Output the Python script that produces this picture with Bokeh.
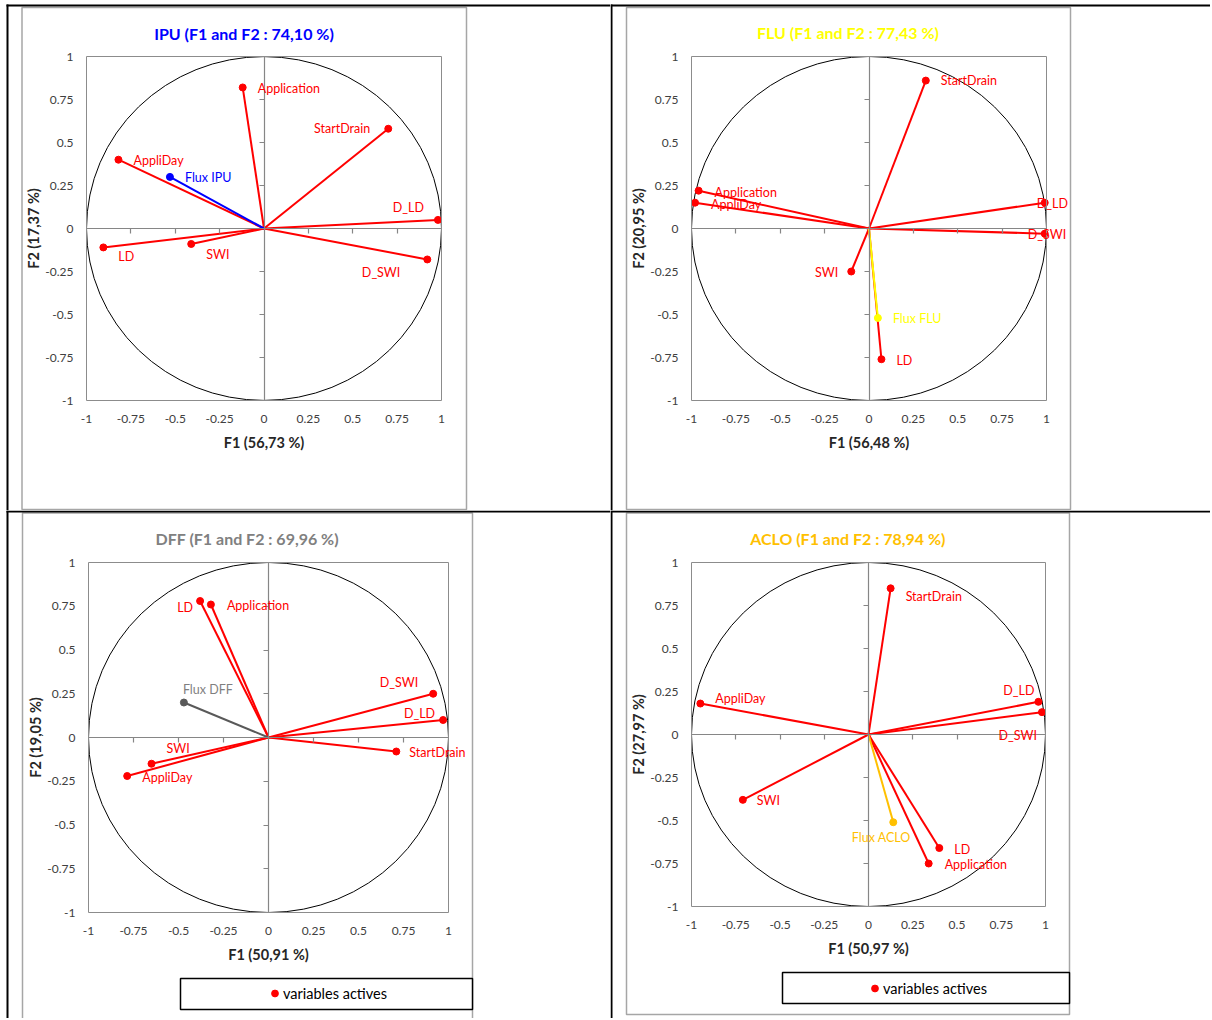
from bokeh.plotting import figure
from bokeh.models import (Range1d, FixedTicker, LinearAxis, Label, BoxAnnotation,
                          Legend, LegendItem)
from bokeh.layouts import gridplot
from bokeh.embed import file_html
from bokeh.resources import INLINE

# ---------------- data ----------------
VARIABLES = ["StartDrain", "Application", "AppliDay", "D_LD", "D_SWI", "LD", "SWI"]
TICKS = [-1, -0.75, -0.5, -0.25, 0, 0.25, 0.5, 0.75, 1]
TICK_LABELS = ["-1", "-0.75", "-0.5", "-0.25", "0", "0.25", "0.5", "0.75", "1"]

IPU_F1 = [0.70, -0.12, -0.82, 0.98, 0.92, -0.905, -0.41]
IPU_F2 = [0.58, 0.82, 0.40, 0.05, -0.18, -0.11, -0.09]
IPU_FLUX = [-0.53, 0.30]

FLU_F1 = [0.32, -0.96, -0.98, 0.99, 0.99, 0.07, -0.10]
FLU_F2 = [0.86, 0.22, 0.15, 0.15, -0.03, -0.76, -0.25]
FLU_FLUX = [0.05, -0.52]

DFF_F1 = [0.71, -0.32, -0.785, 0.97, 0.915, -0.38, -0.65]
DFF_F2 = [-0.08, 0.76, -0.22, 0.10, 0.25, 0.78, -0.15]
DFF_FLUX = [-0.47, 0.20]

ACLO_F1 = [0.125, 0.34, -0.95, 0.96, 0.98, 0.40, -0.71]
ACLO_F2 = [0.85, -0.75, 0.18, 0.19, 0.13, -0.66, -0.38]
ACLO_FLUX = [0.14, -0.51]

TITLES = ["IPU (F1 and F2 : 74,10 %)", "FLU (F1 and F2 : 77,43 %)",
          "DFF (F1 and F2 : 69,96 %)", "ACLO (F1 and F2 : 78,94 %)"]
X_LABELS = ["F1 (56,73 %)", "F1 (56,48 %)", "F1 (50,91 %)", "F1 (50,97 %)"]
Y_LABELS = ["F2 (17,37 %)", "F2 (20,95 %)", "F2 (19,05 %)", "F2 (27,97 %)"]
FLUX_NAMES = ["Flux IPU", "Flux FLU", "Flux DFF", "Flux ACLO"]
LEGEND_LABEL = "variables actives"

# ---------------- styles / positions ----------------
FONT = "Lato"
RED = "#FF0000"
AXGRAY = "#868686"
FRAMEGRAY = "#8c8c8c"
CHARTGRAY = "#a6a6a6"

# label placement: dx, dy (screen px, dy down), align
POS = [
    {"StartDrain": (-18, 0, "right"), "Application": (15, 1, "left"),
     "AppliDay": (15, 1, "left"), "D_LD": (-14, -12, "right"),
     "D_SWI": (-27, 13, "right"), "LD": (15, 9, "left"), "SWI": (15, 11, "left"),
     "flux": (15, 1, "left")},
    {"StartDrain": (15, 0, "left"), "Application": (16, 2, "left"),
     "AppliDay": (16, 2, "left"), "D_LD": (-8, 1, "left"),
     "D_SWI": (-17, 1, "left"), "LD": (15, 1, "left"), "SWI": (-13, 1, "right"),
     "flux": (15, 1, "left")},
    {"StartDrain": (13, 1, "left"), "Application": (16, 1, "left"),
     "AppliDay": (15, 1, "left"), "D_LD": (-8, -7, "right"),
     "D_SWI": (-15, -11, "right"), "LD": (-7, 6, "right"), "SWI": (15, -15, "left"),
     "flux": (-1, -13, "left")},
    {"StartDrain": (15, 8, "left"), "Application": (16, 1, "left"),
     "AppliDay": (15, -5, "left"), "D_LD": (-4, -11, "right"),
     "D_SWI": (-5, 23, "right"), "LD": (15, 1, "left"), "SWI": (14, 1, "left"),
     "flux": (-12, 15, "center")},
]

# canvas-pixel geometry of each cell (origin = top-left of the cell)
GEO = [
    dict(W=610, H=510, area=(86, 56, 441, 400), title=(243.5, 32.7),
         chart=(21.5, 7, 466, 509), lines=[(6, 4, 610, 6), (6, 4, 8, 510)], legend=None),
    dict(W=600, H=510, area=(81, 56, 436, 400), title=(237.5, 32.3),
         chart=(16, 7, 460, 509), lines=[(0, 4, 600, 6), (0, 4, 2, 510)], legend=None),
    dict(W=610, H=508, area=(88, 52, 448, 402), title=(246.8, 28.3),
         chart=(22, 2.5, 472, 520), lines=[(6, 0, 610, 2), (6, 0, 8, 508)],
         legend=dict(box=(180, 468, 472, 499), loc=(266, 16))),
    dict(W=600, H=508, area=(81, 52, 435, 396), title=(237.3, 28.3),
         chart=(16, 2.5, 459, 504), lines=[(0, 0, 600, 2), (0, 0, 2, 508)],
         legend=dict(box=(172, 462, 459, 493), loc=(256, 21))),
]

TITLE_COLORS = ["#0000FF", "#FFFF00", "#808080", "#FFC000"]
FLUX_LINE = ["#0000FF", "#FFFF00", "#595959", "#FFC000"]
FLUX_TEXT = ["#0000FF", "#FFFF00", "#7F7F7F", "#FFC000"]


def make_panel(i, f1, f2, flux):
    g = GEO[i]
    W, H = g["W"], g["H"]
    L, T, R, B = g["area"]
    sx = (R - L) / 2.0
    sy = (B - T) / 2.0
    xr = Range1d(-1 - L / sx, 1 + (W - R) / sx)
    yr = Range1d(-1 - (H - B) / sy, 1 + T / sy)

    def X(c):
        return -1 + (c - L) / sx

    def Y(c):
        return 1 - (c - T) / sy

    p = figure(x_range=xr, y_range=yr, frame_width=W, frame_height=H,
               min_border=0, x_axis_location=None, y_axis_location=None,
               toolbar_location=None, tools="", output_backend="svg")
    p.grid.visible = False
    p.outline_line_color = None
    p.border_fill_color = "white"
    p.background_fill_color = "white"

    def box(l, t, r, b, **kw):
        return BoxAnnotation(left=X(l), right=X(r), top=Y(t), bottom=Y(b), **kw)

    # chart area border and table lines
    cl, ct, cr, cb = g["chart"]
    p.add_layout(box(cl, ct, cr, cb, fill_alpha=0, line_color=CHARTGRAY,
                     line_alpha=1, line_width=1.5))
    for (l, t, r, b) in g["lines"]:
        p.add_layout(box(l, t, r, b, fill_color="black", fill_alpha=1, line_alpha=0))

    # plot-area border
    p.add_layout(BoxAnnotation(left=-1, right=1, bottom=-1, top=1, fill_alpha=0,
                               line_color=FRAMEGRAY, line_alpha=1, line_width=1))

    overrides = {float(t): s for t, s in zip(TICKS, TICK_LABELS)}
    xa = LinearAxis(fixed_location=-1, bounds=(-1, 1), ticker=FixedTicker(ticks=TICKS),
                    major_label_overrides=overrides, axis_label=X_LABELS[i],
                    major_label_standoff=14, axis_label_standoff=8)
    ya = LinearAxis(fixed_location=-1, bounds=(-1, 1), ticker=FixedTicker(ticks=TICKS),
                    major_label_overrides=overrides, axis_label=Y_LABELS[i],
                    major_label_standoff=13, axis_label_standoff=0)
    for ax in (xa, ya):
        ax.axis_line_color = None
        ax.major_tick_out = 0
        ax.major_tick_in = 0
        ax.minor_tick_out = 0
        ax.minor_tick_in = 0
        ax.major_label_text_font = FONT
        ax.major_label_text_font_size = "12px"
        ax.major_label_text_color = "#404040"
        ax.axis_label_text_font = FONT
        ax.axis_label_text_font_style = "bold"
        ax.axis_label_text_font_size = "14.5px"
        ax.axis_label_text_color = "#262626"
    p.add_layout(xa, "below")
    p.add_layout(ya, "left")

    cross_ticks = [t for t in TICKS if abs(t) not in (0, 1)]
    empty = {float(t): "" for t in cross_ticks}
    for side in ("below", "left"):
        ca = LinearAxis(fixed_location=0, bounds=(-1, 1),
                        ticker=FixedTicker(ticks=cross_ticks),
                        major_label_overrides=empty,
                        axis_line_color=AXGRAY, axis_line_width=1.2,
                        major_tick_line_color=AXGRAY, major_tick_line_width=1.2,
                        major_tick_out=5, major_tick_in=0,
                        minor_tick_out=0, minor_tick_in=0)
        p.add_layout(ca, side)

    # unit circle
    p.ellipse(x=0, y=0, width=2, height=2, fill_color=None,
              line_color="black", line_width=1)

    n = len(f1)
    p.segment(x0=[0] * n, y0=[0] * n, x1=f1, y1=f2, line_color=RED, line_width=2)
    pts = p.scatter(f1, f2, size=7, fill_color=RED, line_color=RED)

    p.segment(x0=[0], y0=[0], x1=[flux[0]], y1=[flux[1]],
              line_color=FLUX_LINE[i], line_width=2)
    p.scatter([flux[0]], [flux[1]], size=7, fill_color=FLUX_LINE[i],
              line_color=FLUX_LINE[i])

    pos = POS[i]
    for name, x, y in zip(VARIABLES, f1, f2):
        dx, dy, al = pos[name]
        p.add_layout(Label(x=x, y=y, x_offset=dx, y_offset=-dy, text=name,
                           text_align=al, text_baseline="middle",
                           text_font=FONT, text_font_size="12.5px", text_color=RED))
    dx, dy, al = pos["flux"]
    p.add_layout(Label(x=flux[0], y=flux[1], x_offset=dx, y_offset=-dy,
                       text=FLUX_NAMES[i], text_align=al, text_baseline="middle",
                       text_font=FONT, text_font_size="12.5px",
                       text_color=FLUX_TEXT[i]))

    # title
    tx, ty = g["title"]
    p.add_layout(Label(x=X(tx), y=Y(ty), text=TITLES[i], text_align="center",
                       text_baseline="middle", text_font=FONT,
                       text_font_style="bold", text_font_size="16px",
                       text_color=TITLE_COLORS[i]))

    if g["legend"] is not None:
        bl_, bt_, br_, bb_ = g["legend"]["box"]
        p.add_layout(box(bl_, bt_, br_, bb_, fill_color="white", fill_alpha=1,
                         line_color="black", line_alpha=1, line_width=1.5))
        leg = Legend(items=[LegendItem(label=LEGEND_LABEL, renderers=[pts])],
                     location=g["legend"]["loc"], orientation="vertical",
                     padding=0, margin=0, spacing=0, glyph_width=17, glyph_height=18,
                     label_height=18, label_standoff=0,
                     border_line_alpha=0, background_fill_alpha=0,
                     label_text_font=FONT, label_text_font_size="14.5px",
                     label_text_color="#000000")
        p.add_layout(leg)
    return p


pA = make_panel(0, IPU_F1, IPU_F2, IPU_FLUX)
pB = make_panel(1, FLU_F1, FLU_F2, FLU_FLUX)
pC = make_panel(2, DFF_F1, DFF_F2, DFF_FLUX)
pD = make_panel(3, ACLO_F1, ACLO_F2, ACLO_FLUX)

grid = gridplot([[pA, pB], [pC, pD]], toolbar_location=None)

open("out.html", "w").write(file_html(grid, INLINE))
